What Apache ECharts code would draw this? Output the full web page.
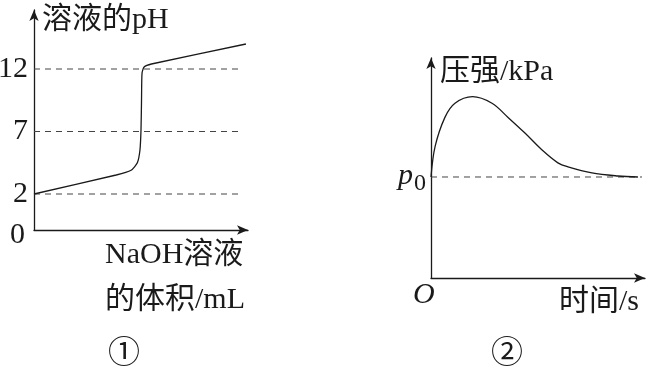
<!DOCTYPE html>
<html>
<head>
<meta charset="utf-8">
<script src="https://cdn.jsdelivr.net/npm/echarts@6/dist/echarts.min.js"></script>
<style>
  html, body { margin: 0; padding: 0; background: #fff; }
  #main { width: 653px; height: 375px; }
</style>
</head>
<body>
<div id="main"></div>
<script>
// chart 1: titration curve (volume of NaOH in mL, pH)
const phVolume = [0, 15.75, 18.6, 19.8, 20.3, 20.5, 20.6, 20.7, 21.1, 22.5, 40.6]
const phValue = [2.0, 3.52, 3.9, 4.5, 5.52, 7.12, 9.5, 11.68, 12.16, 12.4, 14.0]
const phTicks = [2, 7, 12]
const phDashEnd = 40

// chart 2: pressure vs time, p0 = 100
const pTime = [0, 1.9, 6.5, 11.2, 19.4, 28.5, 36, 43.9, 51.9, 59.3, 64, 75.2, 87.4, 96.7]
const pValue = [100, 130, 159, 173, 179.5, 173, 159, 143.5, 126.7, 114, 110, 104, 101, 100]
const p0 = 100
const pDashEnd = 98.6

const serif = "'Liberation Serif', 'Noto Sans CJK SC', serif"
const ink = '#1a1a1a'

const zip = (xs, ys) => xs.map((x, i) => [x, ys[i]])

const axisLine = {
  show: true,
  onZero: false,
  symbol: ['none', 'arrow'],
  symbolSize: [7, 11],
  lineStyle: { color: ink, width: 1.3 }
}

const chart = echarts.init(document.getElementById('main'))

const dashSeries = (xi, yi, v, end) => ({
  type: 'line',
  xAxisIndex: xi,
  yAxisIndex: yi,
  data: [[0, v], [end, v]],
  symbol: 'none',
  silent: true,
  lineStyle: { color: '#444', width: 1, type: [6, 5] }
})

const text = (x, y, str, font, align) => ({
  type: 'text',
  x: x,
  y: y,
  style: {
    text: str,
    font: font,
    fill: ink,
    align: align || 'left',
    verticalAlign: 'middle'
  }
})

const option = {
  animation: false,
  grid: [
    { left: 34, top: 10, width: 214, height: 220, containLabel: false, outerBoundsMode: 'none' },
    { left: 431, top: 58, width: 214, height: 220, containLabel: false, outerBoundsMode: 'none' }
  ],
  xAxis: [
    {
      gridIndex: 0, type: 'value', min: 0, max: 41,
      axisLine: axisLine, axisTick: { show: false },
      axisLabel: { show: false }, splitLine: { show: false }
    },
    {
      gridIndex: 1, type: 'value', min: 0, max: 100,
      axisLine: axisLine, axisTick: { show: false },
      axisLabel: { show: false }, splitLine: { show: false }
    }
  ],
  yAxis: [
    {
      gridIndex: 0, type: 'value', min: -0.88, max: 16.72,
      axisLine: axisLine, axisTick: { show: false },
      axisLabel: {
        customValues: phTicks,
        margin: 6,
        fontSize: 30,
        fontFamily: serif,
        color: ink
      },
      splitLine: { show: false }
    },
    {
      gridIndex: 1, type: 'value', min: 0, max: 217.8,
      axisLine: axisLine, axisTick: { show: false },
      axisLabel: { show: false }, splitLine: { show: false }
    }
  ],
  series: [
    ...phTicks.map(v => dashSeries(0, 0, v, phDashEnd)),
    dashSeries(1, 1, p0, pDashEnd),
    {
      type: 'line',
      xAxisIndex: 0,
      yAxisIndex: 0,
      data: zip(phVolume, phValue),
      symbol: 'none',
      smooth: 0.2,
      lineStyle: { color: ink, width: 1.3 }
    },
    {
      type: 'line',
      xAxisIndex: 1,
      yAxisIndex: 1,
      data: zip(pTime, pValue),
      symbol: 'none',
      smooth: 0.35,
      lineStyle: { color: ink, width: 1.3 }
    }
  ],
  graphic: [
    text(42, 20, '溶液的pH', '30px ' + serif),
    text(10, 235, '0', '30px ' + serif),
    text(105, 255, 'NaOH溶液', '30px ' + serif),
    text(105, 300, '的体积/mL', '30px ' + serif),
    text(124, 355, '①', '32px ' + serif, 'center'),
    text(440, 72, '压强/kPa', '30px ' + serif),
    text(398, 176, 'p', 'italic 30px ' + serif),
    text(414, 184, '0', '24px ' + serif),
    text(413, 295, 'O', 'italic 30px ' + serif),
    text(559, 302, '时间/s', '30px ' + serif),
    text(507, 355, '②', '32px ' + serif, 'center')
  ]
}

chart.setOption(option)
</script>
</body>
</html>
